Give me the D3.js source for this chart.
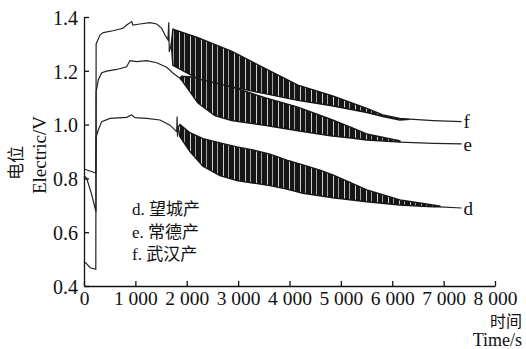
<!DOCTYPE html>
<html><head><meta charset="utf-8">
<script src="https://cdn.jsdelivr.net/npm/d3@7"></script>
<style>body{margin:0;background:#fff} svg{display:block}</style>
</head><body><svg id="c" width="526" height="349"></svg>
<script>
// ---- data ----
const xTicks = [0,1000,2000,3000,4000,5000,6000,7000,8000];
const xTickLabels = ["0","1 000","2 000","3 000","4 000","5 000","6 000","7 000","8 000"];
const yTicks = [0.4,0.6,0.8,1.0,1.2,1.4];
const yTickLabels = ["0.4","0.6","0.8","1.0","1.2","1.4"];
const seriesNames = ["d","e","f"];
const legendLabels = ["d. 望城产","e. 常德产","f. 武汉产"];

// d curve
const dPreT = [0,230,236,278,344,506,830,928,992,1220,1479,1673,1804,1812,1820,1830];
const dPreV = [0.835,0.82,0.955,0.98,1.011,1.023,1.027,1.036,1.026,1.023,1.017,0.998,0.974,1.03,0.955,0.99];
const dBandT  = [1830,1868,2062,2315,2646,2977,3288,3619,3949,4261,4591,4844,5506,6148,6790,6926];
const dBandHi = [0.99,1.0,0.97,0.948,0.932,0.917,0.906,0.89,0.868,0.85,0.831,0.813,0.757,0.72,0.701,0.697];
const dBandLo = [0.99,0.955,0.90,0.845,0.81,0.792,0.783,0.773,0.76,0.745,0.735,0.728,0.713,0.701,0.694,0.694];
const dTailT = [6926,7350];
const dTailV = [0.694,0.69];

// e curve
const ePreT = [0,52,150,233,236,278,344,442,636,830,895,1025,1220,1414,1609,1737,1868];
const ePreV = [0.81,0.80,0.74,0.676,1.122,1.166,1.193,1.199,1.205,1.215,1.238,1.234,1.238,1.23,1.213,1.191,1.172];
const eBandT  = [1868,1900,2218,2548,2874,3521,4163,4800,5200,5500,6148];
const eBandHi = [1.172,1.18,1.175,1.16,1.14,1.10,1.065,1.02,0.99,0.965,0.94];
const eBandLo = [1.172,1.165,1.08,1.033,1.015,0.997,0.977,0.958,0.95,0.943,0.935];
const eTailT = [6148,6800,7350];
const eTailV = [0.935,0.93,0.928];

// f curve
const fPreT = [0,40,120,230,236,311,375,564,759,830,928,953,1089,1284,1414,1512,1576,1634,1650,1660,1700];
const fPreV = [0.49,0.485,0.468,0.462,1.30,1.333,1.342,1.349,1.358,1.37,1.383,1.37,1.374,1.379,1.374,1.358,1.333,1.315,1.38,1.27,1.30];
const fBandT  = [1700,1730,2218,2879,3521,4163,4825,5506,5817,6148,6342];
const fBandHi = [1.30,1.355,1.323,1.272,1.209,1.147,1.108,1.06,1.036,1.023,1.02];
const fBandLo = [1.30,1.22,1.17,1.14,1.115,1.09,1.07,1.045,1.03,1.017,1.02];
const fTailT = [6342,6800,7350];
const fTailV = [1.02,1.015,1.011];

// ---- drawing ----
const svg = d3.select("#c");
const serif = "'Liberation Serif','Noto Sans CJK SC',serif";
const x = d3.scaleLinear().domain([0,8000]).range([84,495]);
const y = d3.scaleLinear().domain([0.4,1.4]).range([286,17]);

const defs = svg.append("defs");
const pat = defs.append("pattern").attr("id","streak").attr("patternUnits","userSpaceOnUse")
  .attr("width",11).attr("height",349);
pat.append("rect").attr("width",11).attr("height",349).attr("fill","#161616");
pat.append("rect").attr("x",3).attr("width",1).attr("height",349).attr("fill","#fff").attr("opacity",0.8);
pat.append("rect").attr("x",8).attr("width",1).attr("height",349).attr("fill","#fff").attr("opacity",0.6);

const series = [
  {pre:[dPreT,dPreV], band:[dBandT,dBandHi,dBandLo], tail:[dTailT,dTailV]},
  {pre:[ePreT,ePreV], band:[eBandT,eBandHi,eBandLo], tail:[eTailT,eTailV]},
  {pre:[fPreT,fPreV], band:[fBandT,fBandHi,fBandLo], tail:[fTailT,fTailV]}
];
const line = d3.line().x(d=>x(d[0])).y(d=>y(d[1]));
const area = d3.area().x(d=>x(d[0])).y0(d=>y(d[2])).y1(d=>y(d[1]));
const g = svg.append("g");
series.forEach((s,i)=>{
  const pre = s.pre[0].map((t,k)=>[t,s.pre[1][k]]);
  const tail = s.tail[0].map((t,k)=>[t,s.tail[1][k]]);
  const band = s.band[0].map((t,k)=>[t,s.band[1][k],s.band[2][k]]);
  g.append("path").attr("d",area(band)).attr("fill","url(#streak)").attr("stroke","#161616").attr("stroke-width",1.4);
  g.append("path").attr("d",line(pre)).attr("fill","none").attr("stroke","#222").attr("stroke-width",1.2);
  g.append("path").attr("d",line(tail)).attr("fill","none").attr("stroke","#222").attr("stroke-width",1.2);
  const last = tail[tail.length-1];
  svg.append("text").attr("x",x(last[0])+2).attr("y",y(last[1])).attr("dy","0.35em")
    .attr("font-family",serif).attr("font-size",19).attr("fill","#111").text(seriesNames[i]);
});

// axes
const xAxis = d3.axisBottom(x).tickValues(xTicks).tickFormat((d,i)=>xTickLabels[i])
  .tickSize(-5).tickSizeOuter(0).tickPadding(5);
const gx = svg.append("g").attr("transform","translate(0,286)").call(xAxis);
const yAxis = d3.axisLeft(y).tickValues(yTicks).tickFormat((d,i)=>yTickLabels[i])
  .tickSize(-5).tickSizeOuter(0).tickPadding(6);
const gy = svg.append("g").attr("transform","translate(84,0)").call(yAxis);
[gx,gy].forEach(a=>{
  a.selectAll("path,line").attr("stroke","#111").attr("stroke-width",1.3);
  a.selectAll("text").attr("font-family",serif).attr("font-size",20).attr("fill","#111");
});
gx.selectAll("text").attr("font-size",19.5);
gy.selectAll("text").attr("dy","0.36em");

// axis titles
svg.append("text").attr("transform","translate(22,163) rotate(-90)").attr("text-anchor","middle")
  .attr("font-family",serif).attr("font-size",17).attr("fill","#111").text("电位");
svg.append("text").attr("transform","translate(46,155) rotate(-90)").attr("text-anchor","middle")
  .attr("font-family",serif).attr("font-size",19).attr("fill","#111").text("Electric/V");
svg.append("text").attr("x",522).attr("y",327).attr("text-anchor","end")
  .attr("font-family",serif).attr("font-size",16).attr("fill","#111").text("时间");
svg.append("text").attr("x",522).attr("y",346).attr("text-anchor","end")
  .attr("font-family",serif).attr("font-size",18).attr("fill","#111").text("Time/s");

// legend
legendLabels.forEach((t,i)=>{
  svg.append("text").attr("x",132).attr("y",215+i*22.5)
    .attr("font-family",serif).attr("font-size",17).attr("fill","#111").text(t);
});
</script></body></html>
